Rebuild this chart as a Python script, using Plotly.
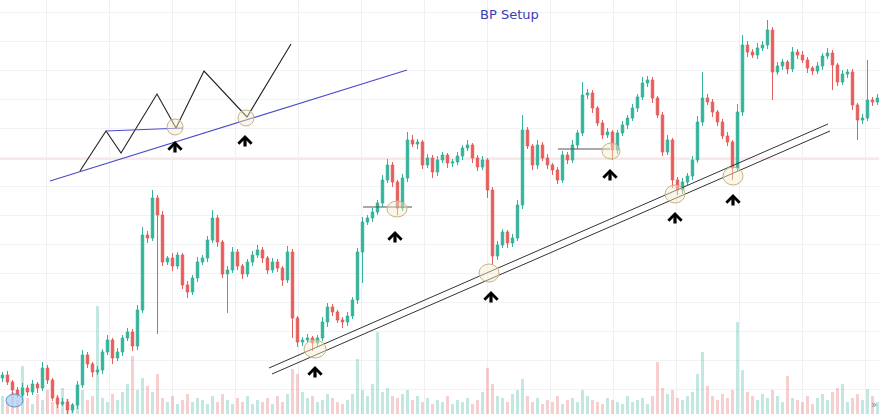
import plotly.graph_objects as go

# ---------------- data ----------------
first_open = 36
closes = [
    39, 32, 24, 19, 26, 22, 30, 26, 46, 34,
    16, 10, 12, 4, 9, 29, 59, 50, 42, 44,
    62, 74, 56, 62, 76, 82, 68, 104, 179, 176,
    216, 199, 152, 156, 148, 159, 129, 122, 136, 152,
    156, 174, 196, 172, 140, 144, 162, 148, 140, 152,
    159, 164, 156, 144, 152, 146, 134, 162, 96, 72,
    74, 76, 71, 76, 92, 107, 102, 94, 92, 98,
    114, 162, 192, 196, 202, 211, 234, 249, 232, 206,
    236, 274, 270, 272, 249, 256, 242, 254, 259, 251,
    252, 258, 266, 269, 256, 247, 254, 224, 158, 169,
    182, 171, 176, 209, 284, 268, 249, 269, 256, 249,
    244, 234, 259, 254, 269, 281, 319, 321, 306, 291,
    279, 282, 264, 281, 289, 296, 306, 317, 331, 334,
    316, 299, 262, 274, 234, 224, 232, 238, 254, 292,
    316, 312, 302, 292, 278, 272, 246, 302, 369, 362,
    359, 366, 369, 384, 342, 348, 352, 345, 362, 359,
    354, 346, 343, 348, 358, 361, 349, 332, 340, 342,
    309, 294, 296, 314, 312, 316,
]
wick_up = [
    3, 4, 2, 3, 5, 3, 4, 2, 6, 3,
    2, 3, 4, 3, 2, 4, 5, 3, 2, 4,
    3, 5, 2, 4, 3, 4, 3, 5, 8, 4,
    8, 3, 4, 2, 5, 3, 2, 4, 3, 5,
    3, 4, 8, 3, 2, 4, 5, 3, 2, 3,
    4, 5, 3, 2, 4, 3, 2, 6, 3, 2,
    3, 4, 2, 3, 5, 4, 3, 2, 3, 4,
    3, 4, 5, 3, 4, 3, 5, 6, 3, 2,
    4, 8, 5, 3, 2, 4, 3, 4, 3, 2,
    3, 4, 3, 5, 2, 3, 4, 2, 3, 4,
    3, 2, 4, 5, 15, 3, 2, 5, 3, 4,
    2, 3, 4, 3, 5, 3, 13, 4, 3, 2,
    3, 4, 2, 3, 4, 3, 4, 3, 6, 4,
    3, 2, 3, 5, 2, 3, 4, 3, 4, 6,
    26, 4, 3, 2, 3, 4, 2, 8, 10, 4,
    3, 5, 4, 10, 3, 4, 3, 2, 5, 3,
    4, 3, 2, 4, 3, 5, 3, 2, 4, 3,
    3, 2, 4, 40, 3, 4,
]
wick_dn = [
    4, 3, 5, 3, 2, 4, 3, 5, 3, 4,
    3, 4, 2, 5, 3, 4, 3, 4, 5, 3,
    4, 3, 6, 3, 4, 3, 5, 4, 3, 5,
    3, 119, 4, 3, 5, 3, 4, 6, 3, 4,
    3, 4, 3, 5, 4, 39, 3, 4, 5, 3,
    4, 3, 5, 4, 3, 4, 6, 3, 20, 5,
    4, 3, 8, 4, 3, 5, 4, 3, 6, 4,
    3, 4, 31, 3, 4, 3, 4, 3, 5, 7,
    3, 4, 3, 5, 4, 3, 6, 4, 3, 5,
    4, 3, 4, 3, 5, 4, 3, 8, 9, 4,
    3, 5, 4, 3, 4, 3, 5, 4, 3, 4,
    5, 4, 3, 4, 3, 4, 3, 4, 5, 3,
    4, 3, 10, 4, 3, 4, 3, 4, 3, 4,
    5, 3, 4, 3, 8, 5, 4, 3, 4, 3,
    4, 3, 5, 4, 3, 4, 12, 3, 4, 5,
    3, 4, 3, 4, 28, 3, 4, 5, 3, 4,
    3, 5, 4, 3, 4, 3, 25, 4, 3, 4,
    5, 20, 4, 3, 4, 3,
]
volume = [
    18, 12, 22, 14, 48, 16, 10, 20, 14, 24,
    12, 18, 26, 15, 10, 20, 24, 14, 18, 108,
    16, 12, 20, 14, 22, 30, 58, 24, 36, 28,
    22, 40, 16, 12, 18, 10, 14, 20, 12, 16,
    14, 10, 18, 12, 20, 14, 10, 16, 12, 18,
    10, 14, 12, 16, 10, 18, 12, 20, 45, 40,
    22, 16, 18, 12, 14, 20, 16, 12, 10, 14,
    20, 55, 24, 18, 30, 82, 22, 26, 18, 16,
    20, 24, 14, 18, 12, 16, 10, 14, 12, 18,
    10, 14, 12, 16, 10, 14, 22, 46, 30, 18,
    16, 12, 20, 24, 35, 18, 12, 16, 10, 14,
    12, 18, 10, 14, 16, 12, 24, 18, 14, 12,
    10, 16, 14, 12, 10, 18, 12, 14, 16, 10,
    18, 52, 26, 20, 24, 16, 14, 18, 22, 40,
    62, 28, 18, 14, 20, 16, 24, 92, 44, 22,
    18, 14, 20, 16, 24, 18, 12, 38, 16, 14,
    12, 18, 10, 16, 20, 14, 22, 26, 30, 12,
    16, 20, 14, 25, 18, 12,
]

# drawing annotations (chart coordinates)
zig_x = [80, 106, 121, 157, 176, 204, 247, 291]
zig_y = [243, 283, 261, 320, 286, 343, 297, 370]
blue_trend = [(50, 233), (407, 344)]
blue_level = [(106, 283), (183, 286)]
trend_upper = [(269, 46), (828, 290)]
trend_lower = [(272, 40), (830, 283)]
levels = [[(363, 207), (412, 207)], [(558, 265), (610, 265)]]
circles = [(175, 287, 8, 8), (246, 296, 8, 8), (315, 65, 11, 9), (397, 205, 10, 8),
           (611, 263, 9, 8), (489, 141, 10, 9), (675, 220, 10, 9), (733, 238, 10, 9)]
arrows = [(175, 273), (245, 279), (315, 48), (395, 183), (610, 245),
          (733, 220), (491, 123), (675, 202)]
price_line = 255

GREEN = "#35b29a"
RED = "#e45f5c"

n = len(closes)
xs = [2.5 + 5 * i for i in range(n)]
opens = [first_open] + closes[:-1]
highs = [max(o, c) + u for o, c, u in zip(opens, closes, wick_up)]
lows = [min(o, c) - d for o, c, d in zip(opens, closes, wick_dn)]
vol_colors = ["rgba(53,178,154,0.30)" if c >= o else "rgba(228,95,92,0.30)"
              for o, c in zip(opens, closes)]

fig = go.Figure()
fig.add_trace(go.Bar(x=xs, y=volume, yaxis="y2", width=3.2,
                     marker=dict(color=vol_colors, line=dict(width=0)),
                     hoverinfo="skip", showlegend=False))
fig.add_trace(go.Candlestick(
    x=xs, open=opens, high=highs, low=lows, close=closes,
    increasing=dict(line=dict(color=GREEN, width=1), fillcolor=GREEN),
    decreasing=dict(line=dict(color=RED, width=1), fillcolor=RED),
    whiskerwidth=0, showlegend=False))

fig.add_trace(go.Scatter(x=zig_x, y=zig_y, mode="lines",
                         line=dict(color="#222222", width=1.1),
                         hoverinfo="skip", showlegend=False))

shapes = []
shapes.append(dict(type="line", xref="paper", x0=0, x1=1, yref="y",
                   y0=price_line, y1=price_line,
                   line=dict(color="rgba(225,150,150,0.45)", width=1), layer="below"))
for (a, b), col in [(blue_trend, "#4b4bcc"), (blue_level, "#4b4bcc")]:
    shapes.append(dict(type="line", x0=a[0], y0=a[1], x1=b[0], y1=b[1],
                       line=dict(color=col, width=1.1)))
for a, b in [trend_upper, trend_lower]:
    shapes.append(dict(type="line", x0=a[0], y0=a[1], x1=b[0], y1=b[1],
                       line=dict(color="#333333", width=1)))
for a, b in levels:
    shapes.append(dict(type="line", x0=a[0], y0=a[1], x1=b[0], y1=b[1],
                       line=dict(color="#555555", width=1)))
for cx, cy, rx, ry in circles:
    shapes.append(dict(type="circle", x0=cx - rx, x1=cx + rx, y0=cy - ry, y1=cy + ry,
                       line=dict(color="#c5b488", width=1),
                       fillcolor="rgba(245,236,205,0.45)"))
# small logo bottom-left
shapes.append(dict(type="circle", xref="paper", yref="paper",
                   x0=6 / 879, x1=23 / 879, y0=7 / 414, y1=20 / 414,
                   line=dict(color="#5b8fd0", width=1),
                   fillcolor="rgba(170,205,240,0.7)"))

annotations = []
for ax_, ay_ in arrows:
    annotations.append(dict(x=ax_, y=ay_, xref="x", yref="y", text="",
                            showarrow=True, ax=0, ay=13, arrowhead=4,
                            arrowsize=0.8, arrowwidth=3.2, arrowcolor="black",
                            standoff=0, startstandoff=0))
annotations.append(dict(x=509 / 879, y=1 - 14 / 414, xref="paper", yref="paper",
                        text="BP Setup", showarrow=False,
                        font=dict(family="DejaVu Sans", size=13, color="#3b3bb0"),
                        xanchor="center", yanchor="middle"))
annotations.append(dict(x=874 / 879, y=1 - 404 / 414, xref="paper", yref="paper",
                        text="»", showarrow=False,
                        font=dict(family="DejaVu Sans", size=10, color="#888888"),
                        xanchor="center", yanchor="middle"))

fig.update_layout(
    width=879, height=414,
    margin=dict(l=0, r=0, t=0, b=0),
    paper_bgcolor="white", plot_bgcolor="white",
    xaxis=dict(range=[0, 879], showticklabels=False, showgrid=True,
               gridcolor="#eef0f4", tick0=46, dtick=63, zeroline=False,
               rangeslider=dict(visible=False), fixedrange=True),
    yaxis=dict(range=[0, 414], showticklabels=False, showgrid=True,
               gridcolor="#f1f2f5", tick0=25, dtick=29, zeroline=False),
    yaxis2=dict(range=[0, 414], overlaying="y", visible=False),
    bargap=0,
    shapes=shapes,
    annotations=annotations,
    showlegend=False,
)

fig.write_html("out.html", config={"displayModeBar": False},
               post_script="document.body.style.margin='0';document.body.style.overflow='hidden';")
